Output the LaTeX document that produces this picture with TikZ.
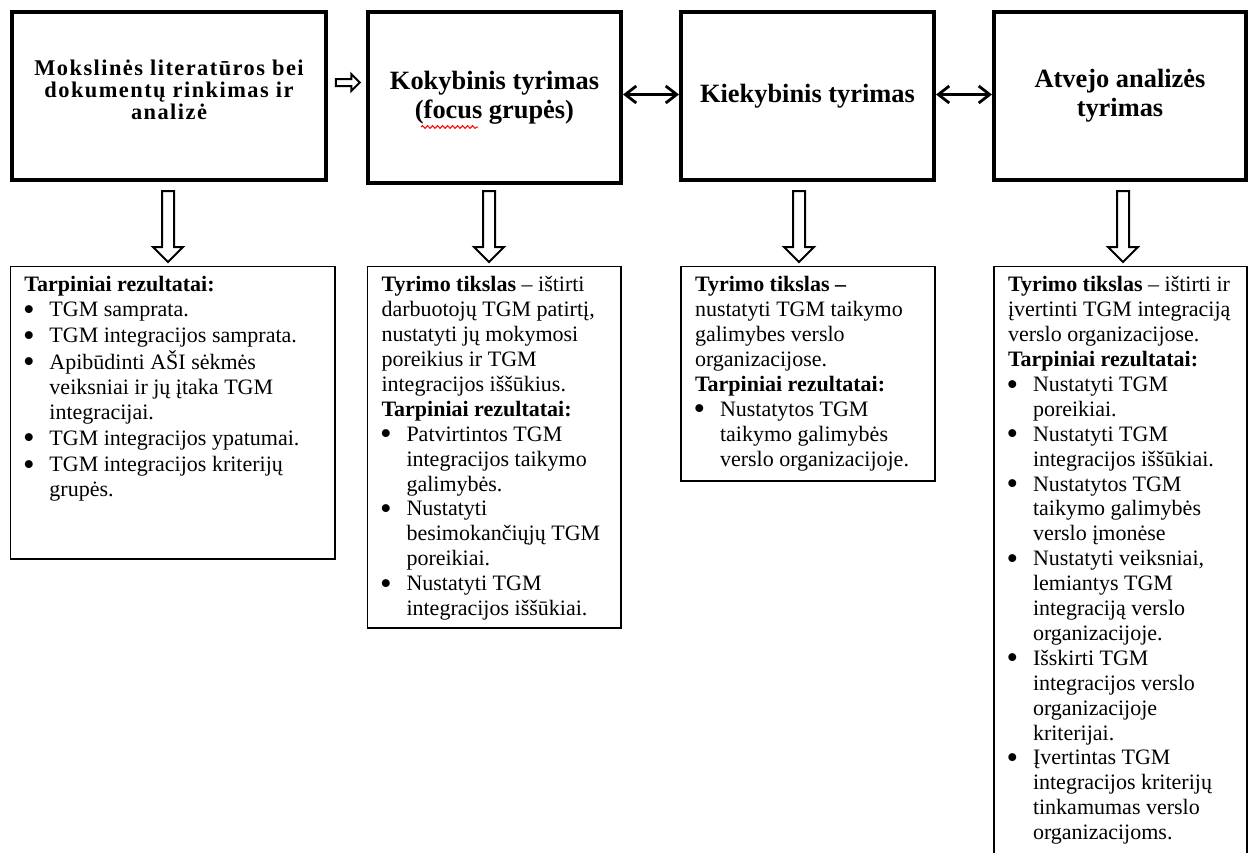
\documentclass[tikz,border=0pt]{standalone}
\usepackage{fontspec}
\setmainfont{Liberation Serif}
\usepackage{enumitem}
\usetikzlibrary{shapes.arrows, arrows.meta, decorations.pathmorphing}

\newcommand{\bodyfont}{\fontsize{11}{12.45}\selectfont}
\newcommand{\titlefont}{\fontsize{13.2}{14.5}\selectfont\bfseries}
\newcommand{\bigdot}{\raisebox{-1.8pt}{\smash{\scalebox{1.5}{\textbullet}}}}
\setlist[itemize]{label=\bigdot, leftmargin=12.5pt, labelsep=7.4pt, itemsep=0pt, topsep=0pt, parsep=0pt, partopsep=0pt}

% result box: text width, height, contents
\newcommand{\resbox}[3]{\hspace*{7pt}\begin{minipage}[t][#2][t]{#1}\bodyfont\raggedright\setlength{\parskip}{0pt}\vspace*{5pt}#3\end{minipage}\hspace*{3pt}}

\begin{document}
\begin{tikzpicture}[x=0.5pt, y=-0.5pt,
    title/.style={draw, line width=1.8pt, align=center, font=\titlefont, inner sep=0pt},
    result/.style={draw, line width=0.75pt, anchor=north west, inner sep=0pt, outer sep=0pt},
    downarr/.style={single arrow, draw, line width=1pt, rotate=-90, inner sep=2.5pt,
        minimum height=35.5pt, minimum width=14pt, single arrow head extend=4.5pt},
    sidearr/.style={single arrow, draw, line width=1pt, inner sep=1.25pt,
        minimum height=12pt, minimum width=7.5pt, single arrow head extend=2.5pt},
    both/.style={{Straight Barb[length=5.5pt,width=8.5pt,line width=1.4pt]}-{Straight Barb[length=5.5pt,width=8.5pt,line width=1.4pt]}, line width=1.1pt}]
    \useasboundingbox (0,0) rectangle (1248,852);
    \clip (0,0) rectangle (1248,852);

    % Research stages
    \node[title, minimum width=157.2pt, minimum height=84.2pt,
        font=\fontsize{11.2}{11}\selectfont\bfseries\addfontfeatures{LetterSpace=6.5}] (lit) at (169,96)
        {Mokslinės literatūros bei\\dokumentų rinkimas ir\\analizė\rule[-6pt]{0pt}{6pt}};
    \node[title, minimum width=126.7pt, minimum height=85.7pt] (qual) at (494.5,97.5)
        {Kokybinis tyrimas\\(focus grupės)};
    \node[title, minimum width=126.7pt, minimum height=84.2pt] (quant) at (807.5,96)
        {Kiekybinis tyrimas};
    \node[title, minimum width=126.2pt, minimum height=84.2pt] (case) at (1120,96)
        {Atvejo analizės\\tyrimas};

    % Links between stages
    \node[sidearr] (next) at (346,82.5) {};
    \draw[both] ([yshift=1.5pt]qual.east) -- ([yshift=1.5pt]qual.east -| quant.west);
    \draw[both] ([yshift=0.75pt]quant.east) -- ([yshift=0.75pt]quant.east -| case.west);
    \draw[red, line width=0.5pt, decorate, decoration={snake, amplitude=0.7pt, segment length=2.5pt}] (421,127) -- (478,127);

    % Results
    \node[result] (res1) at (10.5,266.5) {\resbox{152.25pt}{146.25pt}{%
        \textbf{Tarpiniai rezultatai:}
        \begin{itemize}[itemsep=0.7pt]
            \item TGM samprata.
            \item TGM integracijos samprata.
            \item Apibūdinti AŠI sėkmės\\veiksniai ir jų įtaka TGM\\integracijai.
            \item TGM integracijos ypatumai.
            \item TGM integracijos kriterijų\\grupės.
        \end{itemize}}};
    \node[result] (res2) at (367.5,266.5) {\resbox{116.75pt}{180.75pt}{%
        \textbf{Tyrimo tikslas} – ištirti\\darbuotojų TGM patirtį,\\nustatyti jų mokymosi\\poreikius ir TGM\\integracijos iššūkius.\\
        \textbf{Tarpiniai rezultatai:}
        \begin{itemize}
            \item Patvirtintos TGM\\integracijos taikymo\\galimybės.
            \item Nustatyti\\besimokančiųjų TGM\\poreikiai.
            \item Nustatyti TGM\\integracijos iššūkiai.
        \end{itemize}}};
    \node[result] (res3) at (681,266.5) {\resbox{117pt}{107.25pt}{%
        \textbf{Tyrimo tikslas –}\\nustatyti TGM taikymo\\galimybes verslo\\organizacijose.\\
        \textbf{Tarpiniai rezultatai:}
        \begin{itemize}
            \item Nustatytos TGM\\taikymo galimybės\\verslo organizacijoje.
        \end{itemize}}};
    \node[result] (res4) at (994,266.5) {\resbox{116.5pt}{300pt}{%
        \textbf{Tyrimo tikslas} – ištirti ir\\įvertinti TGM integraciją\\verslo organizacijose.\\
        \textbf{Tarpiniai rezultatai:}
        \begin{itemize}
            \item Nustatyti TGM\\poreikiai.
            \item Nustatyti TGM\\integracijos iššūkiai.
            \item Nustatytos TGM\\taikymo galimybės\\verslo įmonėse
            \item Nustatyti veiksniai,\\lemiantys TGM\\integraciją verslo\\organizacijoje.
            \item Išskirti TGM\\integracijos verslo\\organizacijoje\\kriterijai.
            \item Įvertintas TGM\\integracijos kriterijų\\tinkamumas verslo\\organizacijoms.
        \end{itemize}}};

    % Stage to result
    \node[downarr] (down1) at (168,223.5) {};
    \node[downarr] (down2) at (489,223.5) {};
    \node[downarr] (down3) at (799,223.5) {};
    \node[downarr] (down4) at (1123,223.5) {};
\end{tikzpicture}
\end{document}
